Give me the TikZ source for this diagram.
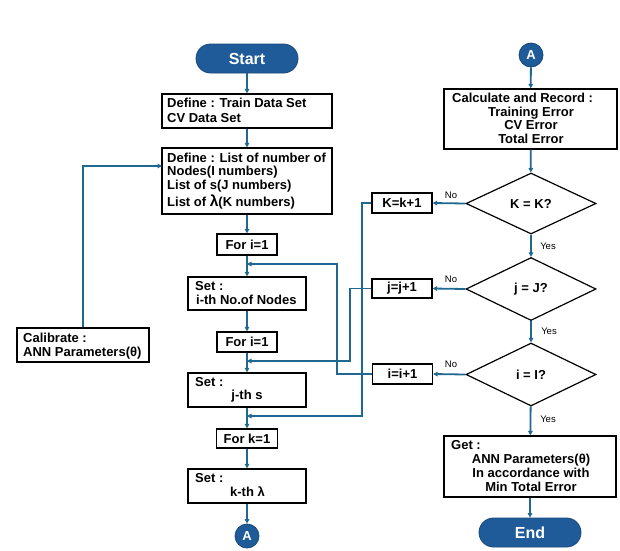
\documentclass[tikz,border=0pt]{standalone}
\usepackage{fontspec}
\setmainfont{Liberation Sans}
\usetikzlibrary{arrows.meta,shapes.geometric}
\definecolor{pillblue}{RGB}{31,91,153}
\definecolor{pilledge}{RGB}{24,72,122}
\definecolor{arrowblue}{RGB}{31,104,146}
\newcommand\bxfont{\bfseries\fontsize{13}{14}\selectfont}
\begin{document}
\begin{tikzpicture}[x=1pt,y=-1pt,
  boxnode/.style={draw=black, line width=1.2pt, fill=white, rectangle, inner sep=0pt},
  pillnode/.style={rectangle, rounded corners=14.5pt, fill=pillblue, draw=pilledge, line width=0.8pt,
     minimum width=102pt, minimum height=29pt, inner sep=0pt, text=white, font=\bfseries\fontsize{16}{17}\selectfont},
  connnode/.style={circle, fill=pillblue, draw=pilledge, line width=0.8pt, minimum size=24pt, inner sep=0pt,
     text=white, font=\bfseries\fontsize{13}{14}\selectfont},
  decnode/.style={diamond, draw=black, line width=1.2pt, fill=white, inner sep=0pt, minimum width=130pt,
     font=\bxfont},
  txt/.style={inner sep=0pt, font=\bxfont},
  lbl/.style={inner sep=0pt, font=\fontsize{9.5}{10}\selectfont},
  arr/.style={draw=arrowblue, line width=1.8pt, -{Triangle[length=4.5pt,width=4.5pt]}},
  ln/.style={draw=arrowblue, line width=1.8pt}]
\fill[white] (0,0) rectangle (620,550);
\useasboundingbox (0,0) rectangle (620,550);

% ---------- left column ----------
\node[pillnode] (start) at (247,58.5) {Start};
\node[boxnode, minimum width=170pt, minimum height=34pt] (box1) at (247,111) {};
\node[txt, anchor=base west] (t1a) at (167,107) {Define : Train Data Set};
\node[txt, anchor=base west] (t1b) at (167,122) {CV Data Set};

\node[boxnode, minimum width=170pt, minimum height=66pt] (box2) at (247,181) {};
\node[txt, anchor=base west] (t2a) at (167,162) {Define : List of number of};
\node[txt, anchor=base west] (t2b) at (167,175.5) {Nodes(I numbers)};
\node[txt, anchor=base west] (t2c) at (167,189) {List of s(J numbers)};
\node[txt, anchor=base west] (t2d) at (167,206.5) {List of {\fontsize{15.5}{16}\selectfont λ}(K numbers)};

\node[boxnode, minimum width=60pt, minimum height=21pt, font=\bxfont] (fori) at (247,244.5) {For i=1};
\node[boxnode, minimum width=118pt, minimum height=33pt] (seti) at (247,293.5) {};
\node[txt, anchor=base west] (tia) at (195,290) {Set :};
\node[txt, anchor=base west] (tib) at (196,304) {i-th No.of Nodes};

\node[boxnode, minimum width=60pt, minimum height=20pt, font=\bxfont] (forj) at (247,342) {For i=1};
\node[boxnode, minimum width=118pt, minimum height=34pt] (setj) at (247,390) {};
\node[txt, anchor=base west] (tja) at (195,386.5) {Set :};
\node[txt, anchor=base] (tjb) at (247,399.5) {j-th s};

\node[boxnode, minimum width=61pt, minimum height=19pt, font=\bxfont] (fork) at (247,438.5) {For k=1};
\node[boxnode, minimum width=118pt, minimum height=34pt] (setk) at (247,486) {};
\node[txt, anchor=base west] (tka) at (195,482.5) {Set :};
\node[txt, anchor=base] (tkb) at (247.5,496) {k-th λ};

\node[connnode] (abot) at (247,536) {A};

\node[boxnode, minimum width=132pt, minimum height=34pt] (calib) at (83,345) {};
\node[txt, anchor=base west] (tca) at (23,342.5) {Calibrate :};
\node[txt, anchor=base west] (tcb) at (23,356.5) {ANN Parameters(θ)};

% ---------- right column ----------
\node[connnode] (atop) at (531,55) {A};
\node[boxnode, minimum width=173pt, minimum height=60pt] (calc) at (530.5,119) {};
\node[txt, anchor=base west] (tra) at (452,102.5) {Calculate and Record :};
\node[txt, anchor=base] (trb) at (531,116) {Training Error};
\node[txt, anchor=base] (trc) at (531,129.5) {CV Error};
\node[txt, anchor=base] (trd) at (531,143) {Total Error};

\node[decnode, minimum height=61pt] (dk) at (531,203.5) {K = K?};
\node[decnode, minimum height=63pt] (dj) at (531,289) {j = J?};
\node[decnode, minimum height=63pt] (di) at (531,374.5) {i = I?};

\node[boxnode, minimum width=60pt, minimum height=20pt, font=\bxfont] (kk) at (402,203) {K=k+1};
\node[boxnode, minimum width=60pt, minimum height=19pt, font=\bxfont] (jj) at (402,288.5) {j=j+1};
\node[boxnode, minimum width=60pt, minimum height=20pt, font=\bxfont] (ii) at (402.5,374) {i=i+1};

\node[boxnode, minimum width=172pt, minimum height=61pt] (get) at (530,466.5) {};
\node[txt, anchor=base west] (tga) at (451,449) {Get :};
\node[txt, anchor=base] (tgb) at (531,463) {ANN Parameters(θ)};
\node[txt, anchor=base] (tgc) at (531,477) {In accordance with};
\node[txt, anchor=base] (tgd) at (531,491) {Min Total Error};

\node[pillnode] (endn) at (530,532.5) {End};

\node[lbl] (no1) at (451,195) {No};
\node[lbl] (no2) at (451,279) {No};
\node[lbl] (no3) at (451,364) {No};
\node[lbl] (yes1) at (548,246) {Yes};
\node[lbl] (yes2) at (549,331) {Yes};
\node[lbl] (yes3) at (548,419) {Yes};

% ---------- connectors ----------
\draw[arr] (start) -- (box1);
\draw[arr] (box1) -- (box2);
\draw[arr] (box2) -- (fori);
\draw[arr] (fori) -- (seti);
\draw[arr] (seti) -- (forj);
\draw[arr] (forj) -- (setj);
\draw[arr] (setj) -- (fork);
\draw[arr] (fork) -- (setk);
\draw[arr] (setk) -- (abot);

\draw[arr] (atop) -- (calc);
\draw[arr] (calc) -- (dk);
\draw[arr] (dk) -- (dj);
\draw[arr] (dj) -- (di);
\draw[arr] (di) -- (get);
\draw[arr] (get) -- (endn);

\draw[arr] (dk.west) -- (kk.east);
\draw[arr] (dj.west) -- (jj.east);
\draw[arr] (di.west) -- (ii.east);

\coordinate (mk) at (247,416);
\coordinate (mj) at (247,361);
\coordinate (mi) at (247,264);
\coordinate (c2) at (162,166);
\draw[arr] (kk.west) -- (362,203) |- (mk);
\draw[arr] (jj.west) -- (350,288.5) |- (mj);
\draw[arr] (ii.west) -- (337,374) |- (mi);
\draw[arr] (calib.north) |- (c2);
\end{tikzpicture}
\end{document}
